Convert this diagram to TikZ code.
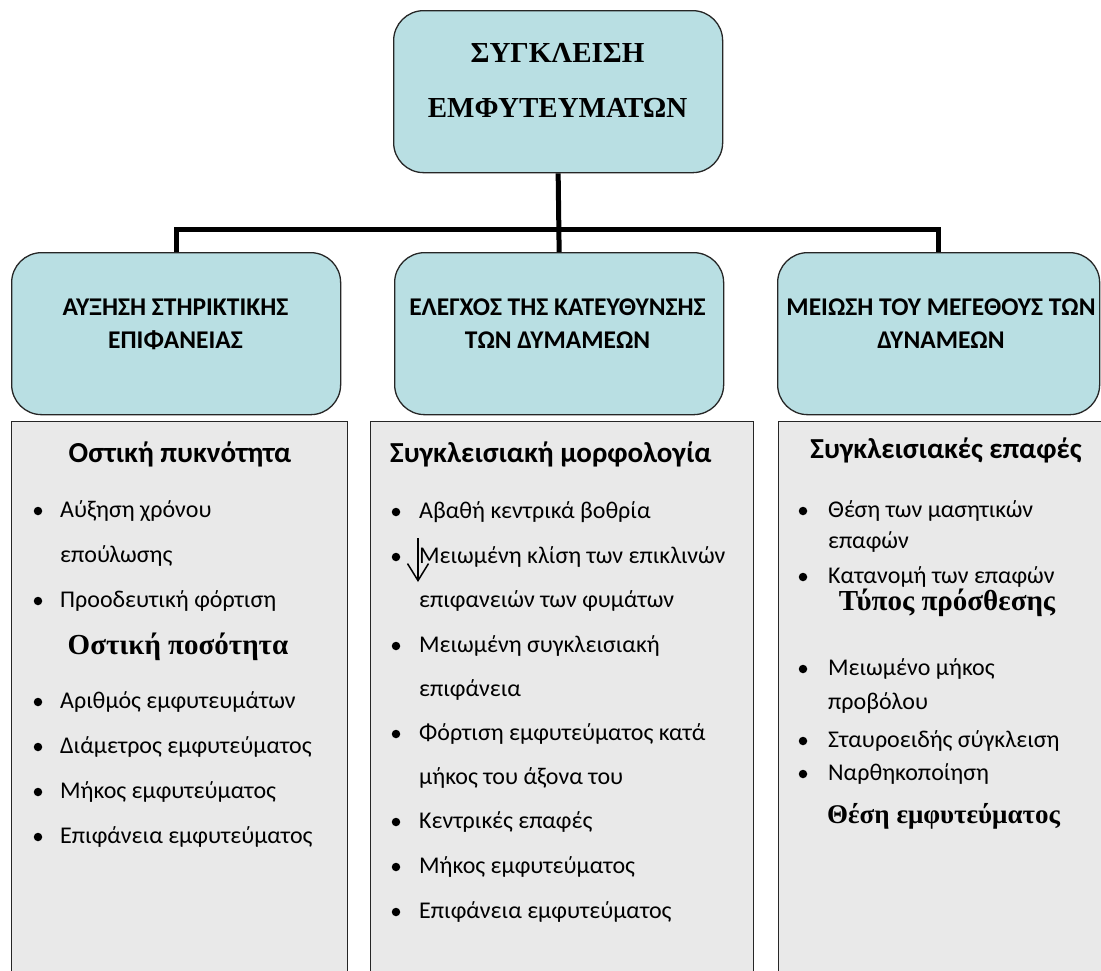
\documentclass[tikz,border=0pt]{standalone}
\usepackage{fontspec}
\setmainfont{Carlito}
\newfontfamily\timesfont{Liberation Serif}
\usetikzlibrary{positioning,arrows.meta}

\definecolor{boxblue}{RGB}{185,223,227}
\definecolor{boxgray}{RGB}{233,233,233}

\tikzset{
  headbox/.style={draw=black!85, line width=1.3pt, fill=boxblue, rounded corners=30pt,
    anchor=north west, inner sep=0pt},
  listbox/.style={draw=black!85, line width=1.3pt, fill=boxgray, anchor=north west, inner sep=0pt},
  link/.style={line width=5pt},
  titletext/.style={font=\timesfont\bfseries\fontsize{29}{31}\selectfont, anchor=base, inner sep=0pt},
  headtext/.style={font=\bfseries\fontsize{25.5}{27}\selectfont, anchor=base, inner sep=0pt},
  subtext/.style={font=\bfseries\fontsize{29}{31}\selectfont, anchor=base, inner sep=0pt},
  serifsub/.style={font=\timesfont\bfseries\fontsize{29}{31}\selectfont, anchor=base, inner sep=0pt},
  item/.style={font=\fontsize{24}{26}\selectfont, anchor=base west, inner sep=0pt},
  dot/.style={circle, fill=black, inner sep=0pt, minimum size=8.5pt},
}

\begin{document}
\begin{tikzpicture}[x=1pt, y=-1pt]
  \useasboundingbox (0,0) rectangle (1101,970);
  \clip (0,0) rectangle (1101,970);

  % boxes
  \node[headbox, minimum width=329pt, minimum height=162pt] (title) at (393,10) {};
  \node[headbox, minimum width=329pt, minimum height=162pt] (hl) at (11,252) {};
  \node[headbox, minimum width=329pt, minimum height=162pt] (hm) at (394,252) {};
  \node[headbox, minimum width=322pt, minimum height=162pt] (hr) at (777,252) {};
  \node[listbox, minimum width=336pt, minimum height=570pt] (ll) at (11,421) {};
  \node[listbox, minimum width=383pt, minimum height=570pt] (lm) at (370,421) {};
  \node[listbox, minimum width=340pt, minimum height=570pt] (lr) at (778,421) {};

  % connectors
  \draw[link] (title.south) -- (hm.north);
  \draw[link] (hl.north) -- ++(0,-23) -| (hr.north);

  % title and headings
  \node[titletext] (t1) at (557.5,62) {ΣΥΓΚΛΕΙΣΗ};
  \node[titletext] (t2) at (557.5,117) {ΕΜΦΥΤΕΥΜΑΤΩΝ};

  \node[headtext] (hl1) at (175.5,315) {ΑΥΞΗΣΗ ΣΤΗΡΙΚΤΙΚΗΣ};
  \node[headtext] (hl2) at (175.5,348) {ΕΠΙΦΑΝΕΙΑΣ};
  \node[headtext] (hm1) at (557.5,315) {ΕΛΕΓΧΟΣ ΤΗΣ ΚΑΤΕΥΘΥΝΣΗΣ};
  \node[headtext] (hm2) at (557.5,348) {ΤΩΝ ΔΥΜΑΜΕΩΝ};
  \node[headtext] (hr1) at (941,315) {ΜΕΙΩΣΗ ΤΟΥ ΜΕΓΕΘΟΥΣ ΤΩΝ};
  \node[headtext] (hr2) at (941,348) {ΔΥΝΑΜΕΩΝ};

  % left list
  \node[subtext] (ls1) at (180,462) {Οστική πυκνότητα};
  \node[serifsub] (ls2) at (178,654) {Οστική ποσότητα};
  \foreach \y/\t [count=\i] in {517/Αύξηση χρόνου, 607/Προοδευτική φόρτιση,
      708/Αριθμός εμφυτευμάτων, 753/Διάμετρος εμφυτεύματος,
      798/Μήκος εμφυτεύματος, 843/Επιφάνεια εμφυτεύματος}
  {
    \node[dot] (ld\i) at (38,\y-6) {};
    \node[item] (li\i) at (60,\y) {\t};
  }
  \node[item] (lc1) at (60,562) {επούλωσης};

  % middle list
  \node[subtext, anchor=base west] (ms1) at (390,462) {Συγκλεισιακή μορφολογία};
  \foreach \y/\t [count=\i] in {518/Αβαθή κεντρικά βοθρία, 563/Μειωμένη κλίση των επικλινών,
      652/Μειωμένη συγκλεισιακή, 740/Φόρτιση εμφυτεύματος κατά,
      828/Κεντρικές επαφές, 873/Μήκος εμφυτεύματος, 918/Επιφάνεια εμφυτεύματος}
  {
    \node[dot] (md\i) at (396,\y-6) {};
    \node[item] (mi\i) at (419,\y) {\t};
  }
  \node[item] (mc1) at (419,607) {επιφανειών των φυμάτων};
  \node[item] (mc2) at (419,696) {επιφάνεια};
  \node[item] (mc3) at (419,784) {μήκος του άξονα του};

  \coordinate (arrtop) at (418,538);
  \coordinate (arrtip) at (418,582);
  \draw[line width=1.5pt, -{Straight Barb[length=17pt, width=21pt]}] (arrtop) -- (arrtip);

  % right list
  \node[subtext] (rs1) at (946,458) {Συγκλεισιακές επαφές};
  \node[serifsub] (rs2) at (947,610) {Τύπος πρόσθεσης};
  \node[serifsub, font=\timesfont\bfseries\fontsize{27}{29}\selectfont, anchor=base west] (rs3) at (827,823) {Θέση εμφυτεύματος};
  \foreach \y/\t [count=\i] in {517/Θέση των μασητικών, 583/Κατανομή των επαφών,
      675/Μειωμένο μήκος, 747/Σταυροειδής σύγκλειση, 780/Ναρθηκοποίηση}
  {
    \node[dot] (rd\i) at (803,\y-6) {};
    \node[item] (ri\i) at (828,\y) {\t};
  }
  \node[item] (rc1) at (828,548) {επαφών};
  \node[item] (rc2) at (828,709) {προβόλου};
\end{tikzpicture}
\end{document}
